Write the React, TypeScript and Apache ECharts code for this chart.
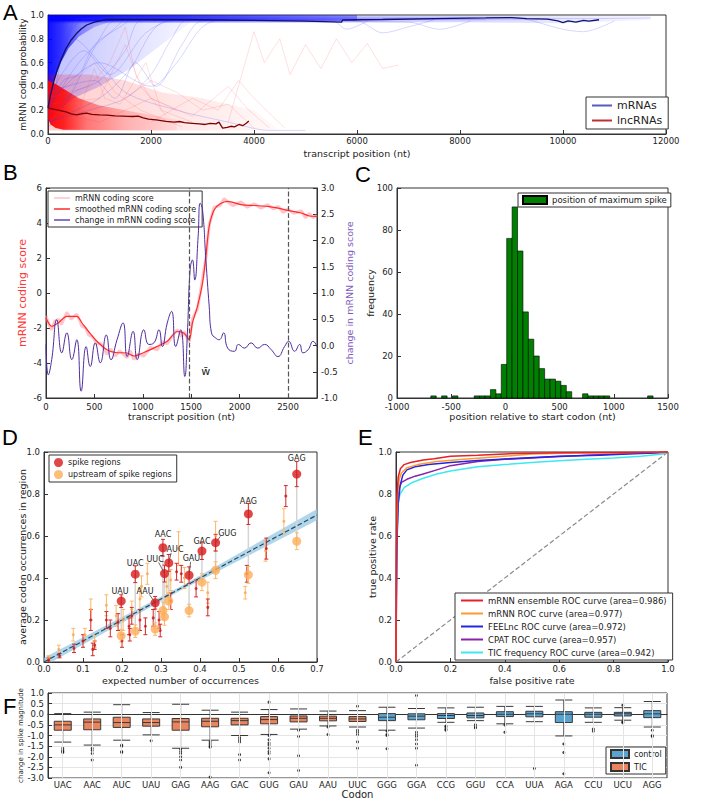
import React, { useEffect, useRef } from "react";
import * as echarts from "echarts";

const FONT = "DejaVu Sans";
const AX = "#333";

// ================= Panel A =================
const aMrnaMean = [[0,0.22],[50,0.33],[117,0.45],[180,0.54],[248,0.62],[350,0.72],[450,0.79],[557,0.846],[650,0.885],[751,0.916],[900,0.94],[1140,0.963],[2000,0.962],[3000,0.96],[4000,0.955],[5000,0.948],[5700,0.94],[5720,0.958],[6500,0.962],[7500,0.97],[8500,0.975],[9000,0.978],[9300,0.97],[9700,0.965],[9900,0.95],[10000,0.935],[10100,0.95],[10250,0.94],[10400,0.955],[10500,0.948],[10700,0.96]];
const aLncMean = [[0,0.22],[100,0.21],[200,0.2],[350,0.185],[450,0.17],[557,0.16],[650,0.17],[751,0.175],[850,0.165],[1000,0.16],[1150,0.158],[1300,0.152],[1450,0.15],[1550,0.148],[1650,0.147],[1750,0.15],[1850,0.135],[1950,0.125],[2100,0.118],[2290,0.106],[2450,0.1],[2550,0.105],[2650,0.095],[2800,0.09],[2940,0.085],[3050,0.08],[3150,0.09],[3260,0.085],[3320,0.1],[3390,0.05],[3480,0.055],[3550,0.065],[3620,0.06],[3710,0.08],[3780,0.07],[3850,0.09],[3900,0.11]];
const aBlueTraces = [
  [[0,0.1],[150,0.4],[300,0.7],[500,0.9],[800,0.97],[3000,0.98],[6000,0.97],[10500,0.97],[11700,0.975]],
  [[0,0.05],[400,0.3],[700,0.55],[1000,0.8],[1300,0.95],[4000,0.96],[7800,0.97]],
  [[0,0.2],[300,0.45],[600,0.5],[900,0.75],[1400,0.9],[1700,0.97],[5000,0.96]],
  [[0,0.15],[500,0.35],[1000,0.45],[1500,0.7],[1800,0.95],[3500,0.97]],
  [[0,0.3],[200,0.6],[400,0.85],[600,0.97],[2500,0.98],[9000,0.98],[10000,0.88],[10400,0.86],[11000,0.95]],
  [[0,0.1],[800,0.2],[1500,0.3],[2000,0.5],[2400,0.8],[2700,0.96],[4500,0.97]],
  [[0,0.5],[500,0.8],[1000,0.6],[1500,0.35],[2500,0.2],[3500,0.1],[4300,0.03],[5000,0.03]],
  [[0,0.2],[600,0.6],[1200,0.85],[1600,0.97],[6000,0.95],[6500,0.85],[7000,0.9],[7500,0.96]],
  [[0,0.25],[1000,0.6],[2000,0.4],[2500,0.6],[3000,0.9],[3500,0.97],[8500,0.96]],
  [[0,0.1],[1000,0.3],[1600,0.55],[2000,0.85],[2300,0.95],[5500,0.96],[5800,0.88],[6200,0.95]],
  [[0,0.3],[700,0.7],[1200,0.5],[1900,0.85],[2500,0.96],[9500,0.96]],
  [[0,0.35],[900,0.45],[1300,0.3],[1700,0.6],[2100,0.4],[2600,0.75],[3000,0.95],[7000,0.94],[7600,0.88],[8200,0.95]],
];
const aRedTraces = [
  [[0,0.3],[800,0.4],[1200,0.6],[1500,0.9],[1700,0.5],[2000,0.3],[2500,0.2]],
  [[600,0.2],[900,0.55],[1100,0.3],[1400,0.25],[1900,0.6],[2200,0.2],[2800,0.1]],
  [[3500,0.1],[4000,0.86],[4200,0.6],[4500,0.8],[4700,0.5],[5000,0.75],[5300,0.55],[5600,0.8],[5900,0.6],[6200,0.76],[6500,0.55],[6800,0.58]],
  [[0,0.2],[1000,0.1],[2000,0.3],[2800,0.15],[3500,0.4],[3900,0.2],[4300,0.05]],
  [[0,0.35],[400,0.4],[900,0.6],[1300,0.35],[1800,0.2],[2600,0.06]],
  [[1500,0.3],[2000,0.45],[2500,0.35],[3000,0.2],[3500,0.25],[4000,0.05]],
  [[0,0.25],[1000,0.3],[1500,0.75],[1800,0.4],[2300,0.15]],
  [[2000,0.1],[2800,0.3],[3300,0.2],[3700,0.45],[4000,0.3],[4600,0.05]],
];
const aBlueHaze = [[0,0.1],[0,1],[2800,1],[2800,0.95],[2200,0.75],[1600,0.55],[1000,0.4],[500,0.3],[200,0.2]];
const aBlueCore = [[0,0.15],[0,1],[1300,1],[1300,0.955],[900,0.9],[600,0.82],[400,0.72],[250,0.6],[120,0.45],[50,0.3]];
const aBlueTop = [[0,0.945],[0,1],[6000,1],[6000,0.95]];
const aBlueTop2 = [[0,0.93],[0,1],[11700,0.99],[11700,0.96],[10000,0.93],[8000,0.94]];
const aRedHaze = [[0,0.5],[800,0.5],[1500,0.45],[2200,0.35],[3000,0.3],[4000,0.2],[4500,0.03],[0,0.03]];
const aRedCore = [[0,0.13],[0,0.45],[150,0.42],[300,0.38],[600,0.3],[1000,0.24],[1500,0.2],[2000,0.16],[2500,0.12],[2500,0.03],[300,0.035],[150,0.05],[50,0.08]];

// ================= Panel B =================
const bSmooth = [[0,-1.43],[60,-1.9],[128,-1.7],[215,-1.33],[318,-1.33],[370,-1.7],[440,-2.2],[526,-2.76],[630,-3.24],[717,-3.4],[838,-3.43],[907,-3.6],[1011,-3.4],[1150,-3.05],[1253,-2.76],[1357,-2.2],[1427,-2.3],[1479,-2.67],[1513,-1.7],[1565,-0.76],[1617,0.57],[1652,2.1],[1686,3.8],[1738,4.76],[1800,5.1],[1877,5.24],[2015,5.05],[2150,5.0],[2292,4.95],[2400,4.85],[2500,4.72],[2638,4.57],[2720,4.4],[2800,4.38]];
const bRaw = [[0,-1.3],[30,-1.8],[60,-2.1],[90,-1.6],[128,-1.5],[160,-1.8],[215,-1.1],[260,-1.5],[318,-1.2],[350,-1.6],[370,-1.9],[410,-2.0],[440,-2.4],[480,-2.5],[526,-2.9],[570,-2.9],[630,-3.5],[670,-3.2],[717,-3.6],[760,-3.3],[838,-3.7],[870,-3.3],[907,-3.8],[950,-3.5],[1011,-3.6],[1080,-3.1],[1150,-3.25],[1200,-2.8],[1253,-2.9],[1300,-2.5],[1357,-2.1],[1400,-2.5],[1427,-2.2],[1479,-2.8],[1513,-1.5],[1565,-0.9],[1617,0.8],[1652,2.0],[1686,3.9],[1738,4.9],[1800,5.0],[1840,5.4],[1877,5.2],[1930,5.0],[2015,5.2],[2080,4.9],[2150,5.1],[2220,4.85],[2292,5.05],[2350,4.8],[2400,4.95],[2450,4.6],[2500,4.8],[2560,4.55],[2638,4.7],[2680,4.3],[2720,4.55],[2760,4.3],[2800,4.45]];
const bChange = [[0,0.02],[24,-0.56],[59,-0.27],[111,0.49],[163,-0.14],[215,0.24],[267,-0.27],[318,0.11],[363,-0.87],[415,-0.02],[457,-0.4],[509,0.05],[561,-0.33],[623,0.2],[672,-0.27],[734,0.11],[796,0.43],[838,-0.21],[900,0.27],[942,-0.27],[1011,0.3],[1063,0.02],[1115,0.05],[1167,0.3],[1202,-0.02],[1253,0.43],[1298,0.65],[1340,-0.02],[1392,0.3],[1434,-0.59],[1461,0.24],[1489,1.44],[1513,1.63],[1537,1.25],[1572,2.08],[1593,2.71],[1617,2.59],[1652,1.63],[1686,0.75],[1710,0.24],[1755,0.14],[1790,0.11],[1835,0.24],[1877,-0.05],[1946,-0.11],[1988,0.02],[2050,-0.05],[2119,0.05],[2188,-0.05],[2258,0.02],[2327,-0.08],[2396,-0.21],[2465,-0.02],[2507,0.08],[2569,-0.11],[2621,0.02],[2655,-0.14],[2708,-0.08],[2760,0.08],[2800,-0.02]];
const bMarkers = [1480, 2500];
const bWbarPos = [[1650, -4.5]];

// ================= Panel C =================
const cBinWidth = 50;
const cBinStart = [-688,-588,-488,-288,-238,-188,-138,-88,-38,12,62,112,162,212,262,312,362,412,462,512,562,712,762,812,862,912,1312];
const cCount = [1,1,1,1,1,1,4,2,16,76,91,70,41,28,20,14,9,9,8,6,3,2,1,1,1,1,1];

// ================= Panel D =================
const dNames = ["UAU","UAC","AAU","AAC","UUC","AUC","GAU","GAC","GUG","AAG","GAG"];
const dX = [0.198,0.234,0.285,0.305,0.309,0.32,0.372,0.405,0.44,0.524,0.648];
const dSpikeY = [0.29,0.418,0.282,0.544,0.421,0.472,0.413,0.528,0.568,0.705,0.895];
const dSpikeErr = [0.03,0.04,0.03,0.04,0.04,0.04,0.04,0.04,0.04,0.05,0.06];
const dUpY = [0.125,0.147,0.157,0.245,0.215,0.29,0.245,0.38,0.437,0.415,0.575];
const dUpErr = [0.03,0.03,0.03,0.04,0.04,0.04,0.03,0.04,0.04,0.04,0.04];
const dLabelPos = [[0.195,0.338],[0.234,0.47],[0.259,0.338],[0.305,0.605],[0.285,0.49],[0.336,0.538],[0.378,0.495],[0.405,0.576],[0.47,0.613],[0.524,0.766],[0.648,0.97]];
const dLeaderEnd = [null,null,[0.27,0.322],null,[0.294,0.474],[0.326,0.52],[0.376,0.477],null,[0.452,0.598],null,null];
const dRedSmall = [[0.012,0.01,0.01],[0.04,0.03,0.01],[0.077,0.065,0.02],[0.1,0.1,0.03],[0.12,0.2,0.05],[0.125,0.06,0.03],[0.13,0.08,0.02],[0.16,0.2,0.04],[0.17,0.16,0.04],[0.19,0.19,0.04],[0.2,0.1,0.03],[0.218,0.17,0.04],[0.22,0.13,0.03],[0.225,0.22,0.04],[0.246,0.2,0.05],[0.26,0.17,0.04],[0.28,0.21,0.04],[0.295,0.2,0.04],[0.298,0.15,0.03],[0.325,0.29,0.04],[0.34,0.43,0.04],[0.352,0.42,0.04],[0.39,0.35,0.04],[0.42,0.26,0.04],[0.52,0.42,0.04],[0.57,0.54,0.05],[0.62,0.79,0.05]];
const dOrangeSmall = [[0.012,0.02,0.01],[0.038,0.06,0.02],[0.075,0.13,0.03],[0.105,0.13,0.03],[0.12,0.25,0.05],[0.13,0.1,0.03],[0.16,0.27,0.05],[0.185,0.22,0.05],[0.203,0.2,0.05],[0.225,0.25,0.04],[0.246,0.3,0.05],[0.25,0.36,0.05],[0.265,0.42,0.05],[0.315,0.36,0.05],[0.325,0.39,0.05],[0.345,0.54,0.08],[0.36,0.4,0.05],[0.42,0.33,0.05],[0.44,0.6,0.07],[0.516,0.33,0.03],[0.568,0.53,0.05],[0.615,0.67,0.06]];
const dFit = [[0,0],[0.7,0.7]];
const dBand = [[0,-0.02],[0.35,0.34],[0.7,0.675],[0.7,0.728],[0.35,0.36],[0,0.02]];

// ================= Panel E =================
const eEnsemble = [[0,0],[0.001,0.5],[0.004,0.8],[0.008,0.88],[0.016,0.92],[0.03,0.94],[0.053,0.95],[0.1,0.962],[0.14,0.968],[0.2,0.98],[0.3,0.985],[0.44,0.993],[0.6,0.996],[0.8,0.998],[1,1]];
const eMrnn = [[0,0],[0.002,0.6],[0.006,0.8],[0.012,0.87],[0.02,0.9],[0.04,0.925],[0.08,0.94],[0.15,0.955],[0.25,0.965],[0.35,0.975],[0.5,0.99],[0.65,0.995],[0.8,0.997],[1,1]];
const eFeel = [[0,0],[0.003,0.55],[0.008,0.75],[0.015,0.84],[0.025,0.89],[0.04,0.915],[0.07,0.93],[0.12,0.94],[0.2,0.95],[0.3,0.96],[0.45,0.97],[0.6,0.98],[0.75,0.985],[0.85,0.99],[0.95,0.995],[1,1]];
const eCpat = [[0,0],[0.002,0.45],[0.006,0.75],[0.012,0.83],[0.02,0.855],[0.04,0.87],[0.07,0.885],[0.1,0.895],[0.15,0.915],[0.2,0.935],[0.3,0.955],[0.4,0.965],[0.55,0.975],[0.7,0.985],[0.85,0.993],[1,1]];
const eTic = [[0,0],[0.001,0.3],[0.004,0.6],[0.008,0.76],[0.015,0.8],[0.03,0.83],[0.06,0.855],[0.1,0.875],[0.15,0.895],[0.2,0.91],[0.3,0.93],[0.4,0.94],[0.5,0.95],[0.6,0.958],[0.7,0.965],[0.8,0.972],[0.9,0.98],[0.98,0.99],[1,1]];
const eNames = ["mRNN ensemble ROC curve (area=0.986)","mRNN ROC curve (area=0.977)","FEELnc ROC curve (area=0.972)","CPAT ROC curve (area=0.957)","TIC frequency ROC curve (area=0.942)"];
const eColors = ["#e5202a","#ff9a2e","#2525e0","#8b22a8","#3ee8f2"];

// ================= Panel F =================
const fCodons = ["UAC","AAC","AUC","UAU","GAG","AAG","GAC","GUG","GAU","AAU","UUC","GGG","GGA","CCG","GGU","CCA","UUA","AGA","CCU","UCU","AGG"];
const fTicCount = 11;
const fBoxes = [
  [-1.31,-0.75,-0.5,-0.33,0.03],[-1.45,-0.73,-0.37,-0.22,0.1],[-1.22,-0.62,-0.39,-0.14,0.45],[-0.97,-0.56,-0.39,-0.22,0.08],
  [-1.6,-0.75,-0.36,-0.2,0.47],[-1.22,-0.59,-0.33,-0.19,0.19],[-1.0,-0.5,-0.3,-0.19,0.1],[-0.95,-0.45,-0.25,-0.11,0.22],
  [-0.7,-0.36,-0.19,-0.08,0.25],[-0.55,-0.31,-0.19,-0.09,0.15],[-0.6,-0.34,-0.22,-0.11,0.17],[-0.75,-0.3,-0.14,0.03,0.33],
  [-0.65,-0.26,-0.09,0.02,0.27],[-0.38,-0.2,-0.06,0.03,0.3],[-0.3,-0.17,-0.06,0.06,0.33],[-0.45,-0.11,0.0,0.12,0.37],
  [-0.35,-0.12,0.02,0.14,0.37],[-1.02,-0.39,0.0,0.12,0.67],[-0.38,-0.14,0.0,0.09,0.3],[-0.28,-0.08,0.02,0.09,0.31],[-0.6,-0.16,0.02,0.17,0.6],
];
const fOutliers = [
  [-1.6,-1.7,-1.75,-1.8],[-1.6,-1.7,-1.85,-2.15],[-1.45,-1.5,-1.75,-1.8],[-1.25],[-1.65,-1.75,-1.85,-2.0,-2.15,-2.5],
  [-1.3,-1.4,-1.5,-1.55,-2.95],[-1.1,-1.2,-1.3,-1.9,-2.15],[0.57,-1.0,-1.2,-1.35,-1.45,-1.6,-1.75,-1.85,-2.1,-2.75],
  [-0.75,-1.05,-1.95,-2.65],[-0.6,-0.95],[0.38,-0.75,-0.85,-0.95,-1.3,-1.6],[-0.8,-0.95,-1.0,-1.62],
  [0.88,-0.85,-0.95,-1.05,-1.2,-1.4,-1.6,-2.4],[-0.55,-0.6,-0.7,-0.75],[-0.5,-0.6,-0.65],[-0.5,-0.85],[-2.55],
  [-1.4,-1.8,-2.8],[-0.7,-0.8],[0.42,-0.35,-0.4],[-0.75,-1.0,-1.05],
];
const F_ORANGE = "#e8845e";
const F_BLUE = "#5ba3cf";

// ================= helpers =================
function vAxis(g: number, min: number, max: number, interval: number, o: any = {}) {
  return {
    type: "value", gridIndex: g, min, max, interval, position: o.position,
    axisLine: { show: true, onZero: false, lineStyle: { color: AX } },
    axisTick: { show: true, inside: true, length: 4, lineStyle: { color: AX } },
    axisLabel: {
      fontSize: 8.5, color: "#222", margin: o.margin ?? 4, fontFamily: FONT,
      showMaxLabel: o.showMax,
      formatter: o.fmt != null ? (v: number) => v.toFixed(o.fmt) : (v: number) => String(v),
    },
    splitLine: { show: !!o.split, lineStyle: { color: "#e4e4e4" } },
    name: o.name, nameLocation: "middle", nameGap: o.nameGap, nameRotate: o.rot, nameMoveOverlap: false,
    nameTextStyle: { fontSize: o.nameSize ?? 9.5, color: o.nameColor ?? "#222", fontFamily: FONT },
  };
}

function grad(rgb: string, stops: number[][]) {
  return new echarts.graphic.LinearGradient(0, 0, 1, 0, stops.map(s => ({ offset: s[0], color: `rgba(${rgb},${s[1]})` })));
}

function poly(xi: number, yi: number, pts: number[][], fill: any, z = 2) {
  return {
    type: "custom", xAxisIndex: xi, yAxisIndex: yi, silent: true, clip: true, z,
    data: [pts[0]],
    renderItem: (_p: any, api: any) => ({ type: "polygon", shape: { points: pts.map(q => api.coord(q)) }, style: { fill } }),
  };
}

function errBars(xi: number, yi: number, rows: number[][], color: string, cap: number, z = 3) {
  return {
    type: "custom", xAxisIndex: xi, yAxisIndex: yi, silent: true, z, data: rows, encode: { x: 0, y: 1 },
    renderItem: (_p: any, api: any) => {
      const x = api.value(0), y = api.value(1), e = api.value(2);
      const t = api.coord([x, y + e]), b = api.coord([x, y - e]);
      const st = { stroke: color, lineWidth: 1 };
      return {
        type: "group", children: [
          { type: "line", shape: { x1: t[0], y1: t[1], x2: b[0], y2: b[1] }, style: st },
          { type: "line", shape: { x1: t[0] - cap, y1: t[1], x2: t[0] + cap, y2: t[1] }, style: st },
          { type: "line", shape: { x1: b[0] - cap, y1: b[1], x2: b[0] + cap, y2: b[1] }, style: st },
        ],
      };
    },
  };
}

function lineS(xi: number, yi: number, data: any, color: string, width: number, extra: any = {}) {
  return {
    type: "line", xAxisIndex: xi, yAxisIndex: yi, data, symbol: "none", showSymbol: false, silent: true,
    smooth: extra.smooth ?? false,
    lineStyle: { color, width, ...(extra.ls || {}) }, itemStyle: { color }, name: extra.name, z: extra.z ?? 3,
    markLine: extra.markLine,
  };
}

function legendBox(o: any) {
  return {
    orient: "vertical", selectedMode: false, borderColor: "#333", borderWidth: 1, borderRadius: 0,
    backgroundColor: "#fff", textStyle: { fontFamily: FONT, color: "#222", fontSize: o.fontSize },
    itemGap: o.itemGap ?? 2, itemWidth: o.itemWidth ?? 22, itemHeight: o.itemHeight ?? 10,
    padding: o.padding ?? [2, 5], left: o.left, top: o.top, data: o.data, icon: o.icon,
  };
}

function buildOption() {
  const grids = [
    { left: 48, top: 15, width: 618, height: 119 },
    { left: 46, top: 188, width: 271, height: 210 },
    { left: 397, top: 188, width: 271, height: 210 },
    { left: 44, top: 452, width: 273, height: 210 },
    { left: 396, top: 452, width: 272, height: 210 },
    { left: 48, top: 693, width: 619, height: 85 },
  ].map(g => ({ ...g, show: true, borderColor: "#333", borderWidth: 1, backgroundColor: "transparent", containLabel: false, outerBoundsMode: "none" }));

  const xAxis: any[] = [
    vAxis(0, 0, 12000, 2000, { name: "transcript position (nt)", nameGap: 14, margin: 2 }),
    vAxis(1, 0, 2800, 500, { name: "transcript position (nt)", nameGap: 13, showMax: false }),
    vAxis(2, -1000, 1500, 500, { name: "position relative to start codon (nt)", nameGap: 13 }),
    vAxis(3, 0, 0.7, 0.1, { name: "expected number of occurrences", nameGap: 13, fmt: 1, margin: 2 }),
    vAxis(4, 0, 1, 0.2, { name: "false positive rate", nameGap: 13, fmt: 1, margin: 2 }),
    {
      type: "category", gridIndex: 5, data: fCodons, boundaryGap: true,
      axisLine: { show: true, lineStyle: { color: AX } },
      axisTick: { show: false },
      axisLabel: { fontSize: 8.5, color: "#222", margin: 2, interval: 0, fontFamily: FONT },
      splitLine: { show: false },
      name: "Codon", nameLocation: "middle", nameGap: 11, nameMoveOverlap: false,
      nameTextStyle: { fontSize: 10, color: "#222", fontFamily: FONT },
    },
  ];
  const yAxis: any[] = [
    vAxis(0, 0, 1, 0.2, { name: "mRNN coding probability", nameGap: 21, rot: 90, fmt: 1, nameSize: 9 }),
    vAxis(1, -6, 6, 2, { name: "mRNN coding score", nameGap: 18, rot: 90, nameColor: "#ff3838", nameSize: 11 }),
    vAxis(1, -1, 3, 0.5, { name: "change in mRNN coding score", nameGap: 27, rot: 90, fmt: 1, position: "right", nameColor: "#7e5cc0", nameSize: 9.5 }),
    vAxis(2, 0, 100, 20, { name: "frequency", nameGap: 22, rot: 90 }),
    vAxis(3, 0, 1, 0.2, { name: "average codon occurrences in region", nameGap: 17, rot: 90, fmt: 1 }),
    vAxis(4, 0, 1, 0.2, { name: "true positive rate", nameGap: 19, rot: 90, fmt: 1 }),
    vAxis(5, -3, 1, 0.5, { name: "change in spike magnitude", nameGap: 24, rot: 90, fmt: 1, nameSize: 7, split: true }),
  ];

  const series: any[] = [];
  // ---- A
  series.push(poly(0, 0, aBlueHaze, grad("0,0,255", [[0, 0.25], [1, 0.03]])));
  series.push(poly(0, 0, aBlueTop2, grad("40,40,255", [[0, 0.35], [0.5, 0.25], [1, 0.05]])));
  series.push(poly(0, 0, aBlueTop, grad("0,0,255", [[0, 0.9], [0.4, 0.75], [1, 0.35]])));
  series.push(poly(0, 0, aBlueCore, grad("0,0,255", [[0, 0.92], [0.2, 0.75], [0.5, 0.35], [1, 0.1]])));
  aBlueTraces.forEach(t => series.push(lineS(0, 0, t, "rgba(60,60,255,0.25)", 0.8, { smooth: 0.3 })));
  series.push(poly(0, 0, aRedHaze, grad("255,0,0", [[0, 0.2], [1, 0.02]])));
  series.push(poly(0, 0, aRedCore, grad("255,0,0", [[0, 0.95], [0.12, 0.85], [0.3, 0.45], [0.6, 0.2], [1, 0.06]])));
  aRedTraces.forEach(t => series.push(lineS(0, 0, t, "rgba(255,60,60,0.2)", 0.8)));
  series.push(lineS(0, 0, aMrnaMean, "#10106e", 1.3, { name: "mRNAs", z: 5 }));
  series.push(lineS(0, 0, aLncMean, "#7a0000", 1.3, { name: "lncRNAs", z: 5 }));

  // ---- B
  series.push(lineS(1, 1, bRaw, "rgba(255,150,160,0.55)", 3, { name: "mRNN coding score" }));
  series.push(lineS(1, 1, bSmooth, "#ff2a2a", 1.2, {
    name: "smoothed mRNN coding score", smooth: 0.3,
    markLine: { symbol: ["none", "none"], silent: true, label: { show: false }, lineStyle: { type: "dashed", color: "#555", width: 1.2 }, data: bMarkers.map(v => ({ xAxis: v })) },
  }));
  series.push(lineS(1, 2, bChange, "#4f2c9e", 1, { name: "change in mRNN coding score", z: 4, smooth: 0.5 }));
  series.push({
    type: "custom", xAxisIndex: 1, yAxisIndex: 1, silent: true, z: 6, data: bWbarPos,
    renderItem: (_p: any, api: any) => {
      const c = api.coord([api.value(0), api.value(1)]);
      return { type: "text", x: c[0], y: c[1], style: { text: "w\u0304", align: "center", verticalAlign: "middle", fontSize: 11, fontFamily: FONT, fill: "#222" } };
    },
  });

  // ---- C
  series.push({
    type: "custom", name: "position of maximum spike", xAxisIndex: 2, yAxisIndex: 3, silent: true,
    itemStyle: { color: "#008000", borderColor: "#000", borderWidth: 0.6 },
    data: cBinStart.map((s, i) => [s, cCount[i]]), encode: { x: 0, y: 1 },
    renderItem: (_p: any, api: any) => {
      const s = api.value(0), n = api.value(1);
      const a = api.coord([s, n]), b = api.coord([s + cBinWidth, 0]);
      return { type: "rect", shape: { x: a[0], y: a[1], width: b[0] - a[0], height: b[1] - a[1] }, style: { fill: "#008000", stroke: "#000", lineWidth: 0.6 } };
    },
  });

  // ---- D
  series.push(poly(3, 4, dBand, "rgba(150,200,228,0.75)", 2));
  series.push(lineS(3, 4, dFit, "#2e4a5e", 1.2, { ls: { type: "dashed" }, z: 3 }));
  series.push({
    type: "custom", xAxisIndex: 3, yAxisIndex: 4, silent: true, z: 3,
    data: dX.map((x, i) => [x, dSpikeY[i], dUpY[i]]), encode: { x: 0, y: 1 },
    renderItem: (_p: any, api: any) => {
      const a = api.coord([api.value(0), api.value(1)]), b = api.coord([api.value(0), api.value(2)]);
      return { type: "line", shape: { x1: a[0], y1: a[1], x2: b[0], y2: b[1] }, style: { stroke: "#d4d4d4", lineWidth: 1.5 } };
    },
  });
  series.push(errBars(3, 4, dOrangeSmall, "#fdb766", 2));
  series.push({ type: "scatter", xAxisIndex: 3, yAxisIndex: 4, silent: true, z: 4, symbolSize: 3, itemStyle: { color: "#f9a64f" }, data: dOrangeSmall.map(r => [r[0], r[1]]) });
  series.push(errBars(3, 4, dRedSmall, "#d22a2a", 2));
  series.push({ type: "scatter", xAxisIndex: 3, yAxisIndex: 4, silent: true, z: 4, symbolSize: 3, itemStyle: { color: "#c81818" }, data: dRedSmall.map(r => [r[0], r[1]]) });
  series.push(errBars(3, 4, dX.map((x, i) => [x, dUpY[i], dUpErr[i]]), "#fdb766", 2));
  series.push(errBars(3, 4, dX.map((x, i) => [x, dSpikeY[i], dSpikeErr[i]]), "#d22a2a", 2));
  series.push({
    type: "custom", xAxisIndex: 3, yAxisIndex: 4, silent: true, z: 4,
    data: dX.map((x, i) => [x, dSpikeY[i]]), encode: { x: 0, y: 1 },
    renderItem: (p: any, api: any) => {
      const end = dLeaderEnd[p.dataIndex];
      if (!end) return null;
      const a = api.coord([api.value(0), api.value(1)]), b = api.coord(end);
      return { type: "line", shape: { x1: a[0], y1: a[1], x2: b[0], y2: b[1] }, style: { stroke: "#444", lineWidth: 0.8 } };
    },
  });
  series.push({ type: "scatter", name: "upstream of spike regions", xAxisIndex: 3, yAxisIndex: 4, silent: true, z: 5, symbolSize: 9, itemStyle: { color: "#fdae5a" }, data: dX.map((x, i) => [x, dUpY[i]]) });
  series.push({ type: "scatter", name: "spike regions", xAxisIndex: 3, yAxisIndex: 4, silent: true, z: 6, symbolSize: 9, itemStyle: { color: "#d7191c" }, data: dX.map((x, i) => [x, dSpikeY[i]]) });
  series.push({
    type: "custom", xAxisIndex: 3, yAxisIndex: 4, silent: true, z: 7,
    data: dLabelPos, encode: { x: 0, y: 1 },
    renderItem: (p: any, api: any) => {
      const c = api.coord([api.value(0), api.value(1)]);
      return { type: "text", x: c[0], y: c[1], style: { text: dNames[p.dataIndex], align: "center", verticalAlign: "middle", fontSize: 8, fontFamily: FONT, fill: "#222" } };
    },
  });

  // ---- E
  series.push(lineS(4, 5, [[0, 0], [1, 1]], "#8a8a8a", 1.2, { ls: { type: "dashed" }, z: 2 }));
  const eData = [eEnsemble, eMrnn, eFeel, eCpat, eTic];
  [4, 3, 2, 1, 0].forEach(i => series.push(lineS(4, 5, eData[i], eColors[i], 1.5, { name: eNames[i], z: 3 + (4 - i) })));

  // ---- F
  series.push({
    type: "line", xAxisIndex: 5, yAxisIndex: 6, data: [], silent: true, z: 1,
    markLine: { symbol: ["none", "none"], silent: true, label: { show: false }, lineStyle: { type: "solid", color: "#e4e4e4", width: 1 }, data: fCodons.map(c => ({ xAxis: c })) },
  });
  series.push({
    type: "boxplot", xAxisIndex: 5, yAxisIndex: 6, silent: true, boxWidth: [17, 17], z: 3,
    data: fBoxes.map((b, i) => ({ value: b, itemStyle: { color: i < fTicCount ? F_ORANGE : F_BLUE, borderColor: "#3a3a3a", borderWidth: 1 } })),
  });
  series.push({
    type: "scatter", xAxisIndex: 5, yAxisIndex: 6, silent: true, z: 4, symbolSize: 3, itemStyle: { color: "#111" },
    data: fOutliers.flatMap((arr, i) => arr.map(v => [i, v])),
  });
  series.push({ type: "bar", name: "control", xAxisIndex: 5, yAxisIndex: 6, data: [], itemStyle: { color: F_BLUE, borderColor: "#333", borderWidth: 1 } });
  series.push({ type: "bar", name: "TIC", xAxisIndex: 5, yAxisIndex: 6, data: [], itemStyle: { color: F_ORANGE, borderColor: "#333", borderWidth: 1 } });

  const legend = [
    legendBox({ left: 586, top: 97, fontSize: 11, itemGap: 4, padding: [3, 6], icon: "rect", itemWidth: 20, itemHeight: 2,
      data: [
        { name: "mRNAs", itemStyle: { color: "#5a5abb" } },
        { name: "lncRNAs", itemStyle: { color: "#c03030" } },
      ] }),
    legendBox({ left: 48, top: 191, fontSize: 8, itemGap: 3, padding: [3, 6], icon: "rect", itemWidth: 16, itemHeight: 1.5,
      data: [
        { name: "mRNN coding score", itemStyle: { color: "#ffc0c8" } },
        { name: "smoothed mRNN coding score", itemStyle: { color: "#ff2a2a" } },
        { name: "change in mRNN coding score", itemStyle: { color: "#6a46b0" } },
      ] }),
    legendBox({ left: 518, top: 193, fontSize: 8.5, padding: [2, 4], itemWidth: 24, itemHeight: 8, icon: "rect",
      data: ["position of maximum spike"] }),
    legendBox({ left: 49, top: 455, fontSize: 8, itemGap: 3, padding: [3, 5], itemWidth: 9, itemHeight: 9, icon: "circle",
      data: ["spike regions", "upstream of spike regions"] }),
    legendBox({ left: 455, top: 593, fontSize: 8.5, itemGap: 4, padding: [3, 6], itemWidth: 22, itemHeight: 2, icon: "rect",
      data: eNames }),
    legendBox({ left: 606, top: 747, fontSize: 8, itemGap: 3, padding: [2, 4], itemWidth: 18, itemHeight: 8, icon: "rect",
      data: ["control", "TIC"] }),
  ];

  const letters = [["A", 3, 1], ["B", 3, 161], ["C", 355, 163], ["D", 2, 426], ["E", 358, 426], ["F", 3, 695]];
  const graphic = letters.map(l => ({
    type: "text", x: l[1], y: l[2], silent: true,
    style: { text: l[0], fontSize: 22, fontFamily: "Liberation Sans", fill: "#000" },
  }));

  return {
    animation: false,
    backgroundColor: "#fff",
    textStyle: { fontFamily: FONT },
    grid: grids, xAxis, yAxis, series, legend, graphic,
  };
}

export default function App() {
  const ref = useRef<HTMLDivElement>(null);
  useEffect(() => {
    const chart = echarts.init(ref.current!, null, { renderer: "svg" });
    chart.setOption(buildOption() as any);
    return () => chart.dispose();
  }, []);
  return <div ref={ref} style={{ position: "absolute", left: 0, top: 0, width: 702, height: 801, background: "#fff" }} />;
}
